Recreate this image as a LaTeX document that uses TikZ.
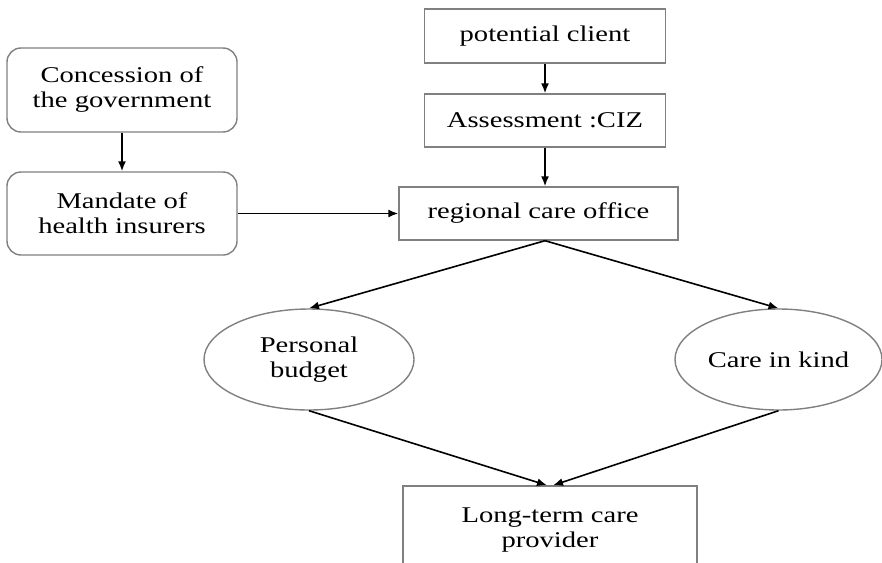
\documentclass[tikz,border=0pt]{standalone}
\usepackage{fontspec}
\setmainfont{Liberation Serif}[FakeStretch=1.27]
\usetikzlibrary{arrows.meta,shapes.geometric,calc}
\definecolor{boxgray}{RGB}{128,128,128}

\begin{document}
\begin{tikzpicture}[x=1pt,y=-1pt,
  every node/.style={font=\fontsize{22.5}{25}\selectfont, align=center, text=black},
  framebox/.style={draw=boxgray, line width=1.4pt, rectangle, inner sep=0pt},
  roundbox/.style={framebox, rounded corners=14pt},
  oval/.style={draw=boxgray, line width=1.4pt, ellipse, inner sep=0pt},
  flow/.style={draw=black, line width=1.6pt, -{Latex[length=10pt,width=8pt]}}
]
\clip (0,0) rectangle (882,562);
\fill[white] (0,0) rectangle (882,562);

% left column: government and insurers
\node[roundbox, minimum width=230pt, minimum height=84pt] (cg) at (122,90) {Concession of\\the government};
\node[roundbox, minimum width=230pt, minimum height=83pt] (mh) at (122,213.5) {Mandate of\\health insurers};

% central column: client intake
\node[framebox, minimum width=241pt, minimum height=54pt] (pc) at (545,36) {potential client};
\node[framebox, minimum width=241pt, minimum height=53pt] (as) at (545,120.5) {Assessment :CIZ};
\node[framebox, minimum width=279pt, minimum height=53pt] (ro) at (538.5,213.5) {regional care office};

% the two delivery options
\node[oval, minimum width=210pt, minimum height=101pt] (pb) at (309,359.5) {Personal\\budget};
\node[oval, minimum width=207pt, minimum height=101pt] (ck) at (778.5,359.5) {Care in kind};

% provider
\node[framebox, minimum width=294pt, minimum height=88pt] (lt) at (550,530) {Long-term care\\provider};

% connectors
\draw[flow] (cg.south) -- (mh.north);
\draw[flow] (pc.south) -- (as.north);
\draw[flow] (as.south) -- (as.south |- ro.north);
\draw[flow] (mh.east) -- (ro.west);
\coordinate (apex) at (as.south |- ro.south);
\draw[flow] (apex) -- (pb.north);
\draw[flow] (apex) -- (ck.north);
\draw[flow] (pb.south) -- ($(lt.north)+(-3,0)$);
\draw[flow] (ck.south) -- ($(lt.north)+(3,0)$);
\end{tikzpicture}
\end{document}
